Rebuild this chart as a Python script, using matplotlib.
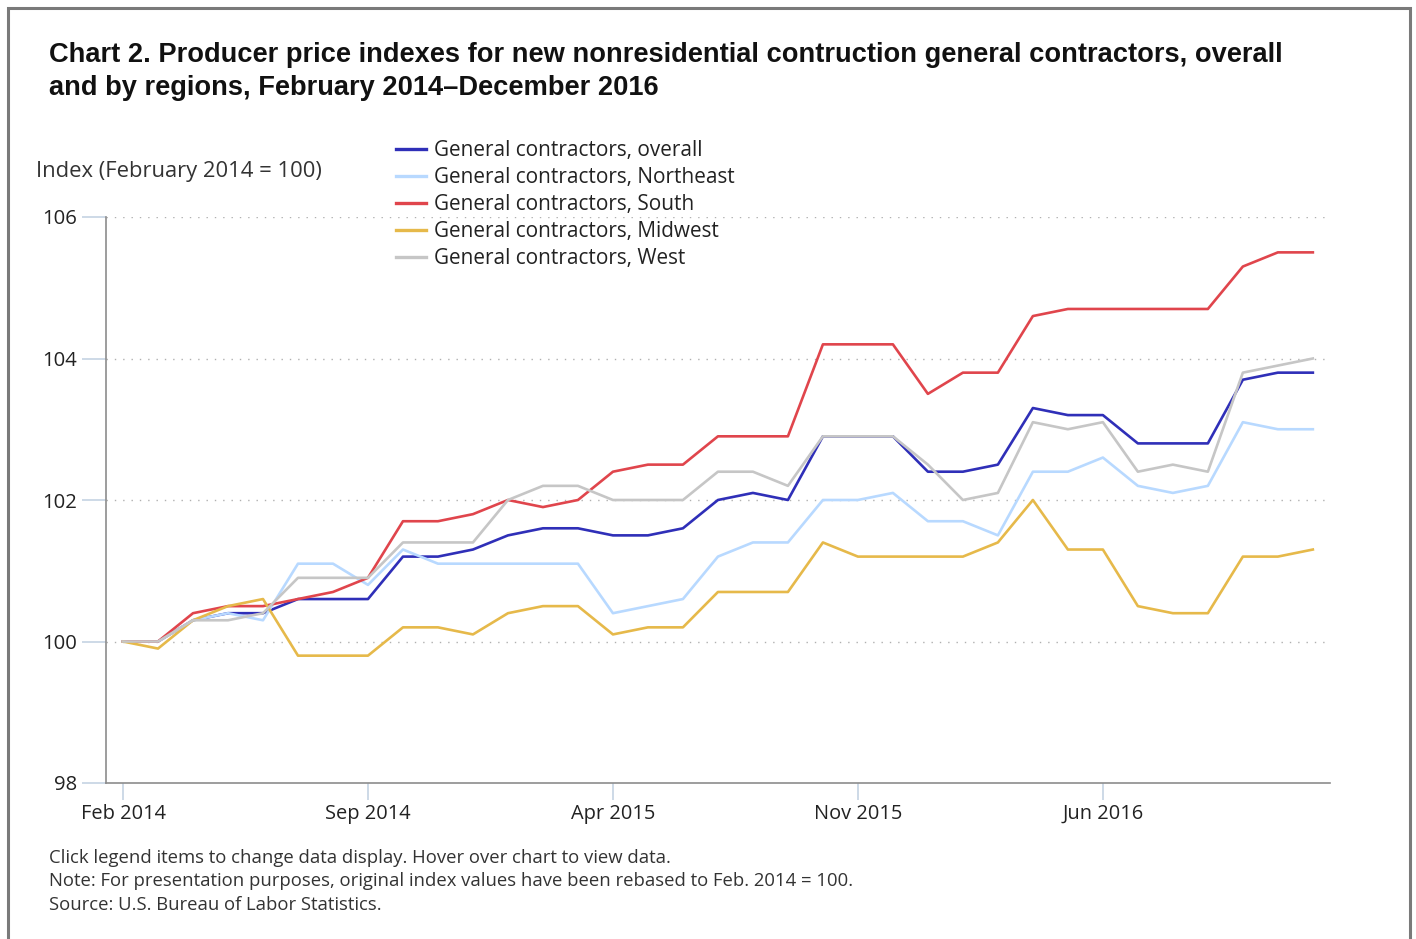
import matplotlib
matplotlib.use("Agg")
import matplotlib.pyplot as plt
from matplotlib.patches import Rectangle

months = ["Feb 2014","Mar 2014","Apr 2014","May 2014","Jun 2014","Jul 2014","Aug 2014",
          "Sep 2014","Oct 2014","Nov 2014","Dec 2014","Jan 2015","Feb 2015","Mar 2015",
          "Apr 2015","May 2015","Jun 2015","Jul 2015","Aug 2015","Sep 2015","Oct 2015",
          "Nov 2015","Dec 2015","Jan 2016","Feb 2016","Mar 2016","Apr 2016","May 2016",
          "Jun 2016","Jul 2016","Aug 2016","Sep 2016","Oct 2016","Nov 2016","Dec 2016"]

overall = [100.0,100.0,100.3,100.4,100.4,100.6,100.6,100.6,101.2,101.2,101.3,101.5,101.6,101.6,
           101.5,101.5,101.6,102.0,102.1,102.0,102.9,102.9,102.9,102.4,102.4,102.5,103.3,103.2,
           103.2,102.8,102.8,102.8,103.7,103.8,103.8]
northeast = [100.0,100.0,100.3,100.4,100.3,101.1,101.1,100.8,101.3,101.1,101.1,101.1,101.1,101.1,
             100.4,100.5,100.6,101.2,101.4,101.4,102.0,102.0,102.1,101.7,101.7,101.5,102.4,102.4,
             102.6,102.2,102.1,102.2,103.1,103.0,103.0]
south = [100.0,100.0,100.4,100.5,100.5,100.6,100.7,100.9,101.7,101.7,101.8,102.0,101.9,102.0,
         102.4,102.5,102.5,102.9,102.9,102.9,104.2,104.2,104.2,103.5,103.8,103.8,104.6,104.7,
         104.7,104.7,104.7,104.7,105.3,105.5,105.5]
midwest = [100.0,99.9,100.3,100.5,100.6,99.8,99.8,99.8,100.2,100.2,100.1,100.4,100.5,100.5,
           100.1,100.2,100.2,100.7,100.7,100.7,101.4,101.2,101.2,101.2,101.2,101.4,102.0,101.3,
           101.3,100.5,100.4,100.4,101.2,101.2,101.3]
west = [100.0,100.0,100.3,100.3,100.4,100.9,100.9,100.9,101.4,101.4,101.4,102.0,102.2,102.2,
        102.0,102.0,102.0,102.4,102.4,102.2,102.9,102.9,102.9,102.5,102.0,102.1,103.1,103.0,
        103.1,102.4,102.5,102.4,103.8,103.9,104.0]

series_names = ["General contractors, overall", "General contractors, Northeast",
                "General contractors, South", "General contractors, Midwest",
                "General contractors, West"]
series_values = [overall, northeast, south, midwest, west]
colors = ["#2f2fb8", "#b8d9ff", "#e0454c", "#e6b94a", "#c6c6c6"]

xtick_labels = ["Feb 2014", "Sep 2014", "Apr 2015", "Nov 2015", "Jun 2016"]
yticks = [98, 100, 102, 104, 106]

W, H = 1416, 939
FONT = "Open Sans"
fig = plt.figure(figsize=(W/100, H/100), dpi=100)
fig.patch.set_facecolor("white")

# outer frame
fig.add_artist(Rectangle((8/W, -0.01), (1410-8)/W, (H-8)/H + 0.01, transform=fig.transFigure,
                         fill=False, edgecolor="#7a7a7a", linewidth=2.2))

ax = fig.add_axes([106/W, 1-783/H, (1330-106)/W, (783-217)/H])
x = list(range(len(months)))
lines = []
for name, vals, c in zip(series_names, series_values, colors):
    ln, = ax.plot(x, vals, color=c, linewidth=1.9, label=name)
    lines.append(ln)

ax.set_xlim(-0.486, 34.49)
ax.set_ylim(98, 106)
ax.set_yticks(yticks)
ax.set_yticklabels([str(v) for v in yticks])
ax.set_xticks([months.index(m) for m in xtick_labels])
ax.set_xticklabels(xtick_labels)

for v in [100, 102, 104, 106]:
    ax.axhline(v, color="#b0b0b0", linewidth=1.0, linestyle=(0, (1, 5)), zorder=0)

for s in ["top", "right"]:
    ax.spines[s].set_visible(False)
ax.spines["left"].set_color("#8c8c8c")
ax.spines["bottom"].set_color("#8c8c8c")
ax.spines["left"].set_linewidth(1.2)
ax.spines["bottom"].set_linewidth(1.2)
ax.tick_params(axis="y", length=17, color="#c5d3e3", width=1.2, labelsize=14.6, pad=4,
               labelcolor="#222222")
ax.tick_params(axis="x", length=12, color="#c5d3e3", width=1.2, labelsize=14.4, pad=3,
               labelcolor="#222222")
for lab in ax.get_xticklabels() + ax.get_yticklabels():
    lab.set_family(FONT)

# title
fig.text(49/W, 1-55/H, "Chart 2. Producer price indexes for new nonresidential contruction general contractors, overall",
         family="Liberation Sans", weight="bold", fontsize=19.65, va="center", ha="left", color="#111111")
fig.text(49/W, 1-88/H, "and by regions, February 2014\u2013December 2016",
         family="Liberation Sans", weight="bold", fontsize=19.65, va="center", ha="left", color="#111111")

# axis label
fig.text(36/W, 1-172/H, "Index (February 2014 = 100)", family=FONT, fontsize=15.8,
         va="center", ha="left", color="#333333")

# legend
leg = fig.legend(lines, series_names, loc="upper left", bbox_to_anchor=(396/W, 1-140/H),
                 frameon=False, prop={"family": FONT, "size": 14.95}, handlelength=1.45,
                 handletextpad=0.4, labelspacing=0.29, borderaxespad=0, borderpad=0)
for t in leg.get_texts():
    t.set_color("#222222")
for h in leg.legend_handles:
    h.set_linewidth(2.4)

# footnotes
notes = ["Click legend items to change data display. Hover over chart to view data.",
         "Note: For presentation purposes, original index values have been rebased to Feb. 2014 = 100.",
         "Source: U.S. Bureau of Labor Statistics."]
for i, n in enumerate(notes):
    fig.text(49/W, 1-(858+23.5*i)/H, n, family=FONT, fontsize=13.3, va="center", ha="left",
             color="#333333")

fig.savefig("out.png", dpi=100)
